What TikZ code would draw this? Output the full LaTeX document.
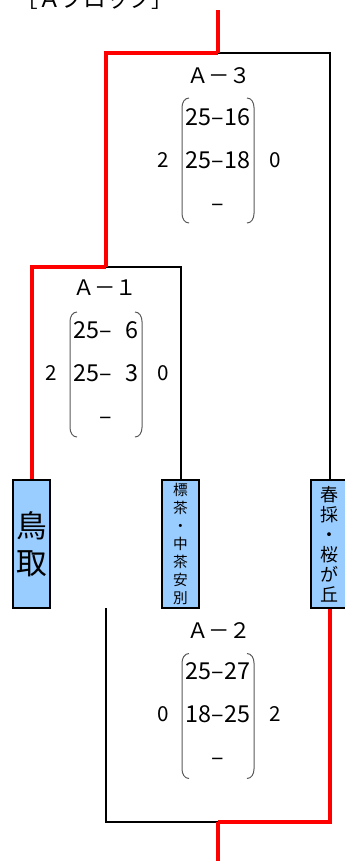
\documentclass[tikz,border=0pt]{standalone}
\usepackage{fontspec}
\setmainfont{Noto Sans CJK JP}
\usepackage{tikz}

\definecolor{boxblue}{HTML}{99CCFF}
\definecolor{winred}{HTML}{FF0000}

\begin{document}
\begin{tikzpicture}[x=0.75pt,y=-0.75pt,
        win/.style={draw=winred, line width=3pt},
        lose/.style={draw=black, line width=1.5pt},
        team/.style={draw=black, line width=1.5pt, fill=boxblue, minimum width=27.75pt, minimum height=96pt, inner sep=0pt, align=center},
        match/.style={font=\fontsize{16}{19}\selectfont},
        sets/.style={align=center, font=\fontsize{17.5}{32}\selectfont},
        point/.style={font=\fontsize{15.5}{18}\selectfont},
        paren/.style={draw=black!65, line width=0.75pt}]
        \useasboundingbox (0,0) rectangle (345,861);
        \node[anchor=base, font=\fontsize{17}{20}\selectfont] (title) at (95,7) {［Ａブロック］};
        % teams
        \node[team, font=\fontsize{23}{28}\selectfont] (tottori) at (31.5,544) {鳥\\取};
        \node[team, font=\fontsize{11}{13.5}\selectfont] (shibecha) at (180.5,544) {標\\茶\\・\\中\\茶\\安\\別};
        \node[team, font=\fontsize{13.5}{15}\selectfont] (harutori) at (329.5,544) {春\\採\\・\\桜\\が\\丘};
        \coordinate (a1) at (106,267);
        \coordinate (a3) at (218,53);
        \coordinate (a2) at (218,822);
        \coordinate (a2in) at (106,608);
        \coordinate (top) at (218,10);
        \coordinate (bottom) at (218,861);
        % lines
        \draw[lose] (shibecha.north) |- (a1);
        \draw[lose] (harutori.north) |- (a3);
        \draw[lose] (a2in) |- (a2);
        \draw[win] (tottori.north) |- (a1);
        \draw[win] (a1) |- (a3);
        \draw[win] (a3) -- (top);
        \draw[win] (harutori.south) |- (a2);
        \draw[win] (a2) -- (bottom);
        % scores
        \node[match] (m3) at (219,76) {Ａ－３};
        \node[sets] (s3) at (218,160) {25–16\\25–18\\–};
        \node[point] (p3l) at (163,160) {2};
        \node[point] (p3r) at (275,160) {0};
        \node[match] (m1) at (105,288) {Ａ－１};
        \node[sets] (s1) at (106,373) {25–\phantom{1}6\\25–\phantom{1}3\\–};
        \node[point] (p1l) at (51,373) {2};
        \node[point] (p1r) at (163,373) {0};
        \node[match] (m2) at (219,631) {Ａ－２};
        \node[sets] (s2) at (218,714) {25–27\\18–25\\–};
        \node[point] (p2l) at (163,714) {0};
        \node[point] (p2r) at (275,714) {2};
        \foreach \cx/\cy in {218/160.5, 106/374.5, 218/716} {
            \draw[paren] (\cx-29,\cy-62.5) to[out=180,in=90] (\cx-36,\cy-53) -- (\cx-36,\cy+53) to[out=-90,in=180] (\cx-29,\cy+62.5);
            \draw[paren] (\cx+29,\cy-62.5) to[out=0,in=90] (\cx+36,\cy-53) -- (\cx+36,\cy+53) to[out=-90,in=0] (\cx+29,\cy+62.5);
        }
      \end{tikzpicture}
\end{document}
